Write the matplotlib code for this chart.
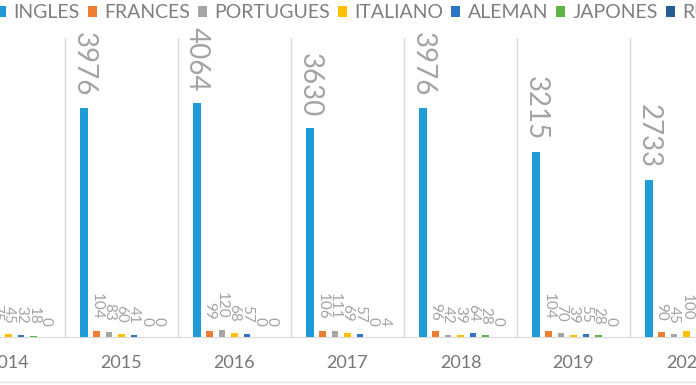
import numpy as np
import matplotlib
matplotlib.use("Agg")
import matplotlib.pyplot as plt

plt.rcParams['font.family'] = ['Lato', 'DejaVu Sans']

# data (2014 and 2020 are partly cut off in the source)
years = ['2014', '2015', '2016', '2017', '2018', '2019', '2020']
series_names = ['INGLES', 'FRANCES', 'PORTUGUES', 'ITALIANO', 'ALEMAN', 'JAPONES', 'RUSO']
ingles = [3500, 3976, 4064, 3630, 3976, 3215, 2733]
frances = [95, 104, 99, 106, 96, 104, 90]
portugues = [75, 83, 120, 111, 42, 70, 45]
italiano = [45, 60, 68, 69, 39, 39, 100]
aleman = [32, 41, 57, 57, 64, 55, 60]
japones = [18, 0, 0, 0, 28, 28, 0]
ruso = [0, 0, 0, 4, 0, 0, 0]

colors = ['#1F9BD7', '#ED7D31', '#A5A5A5', '#FFC000', '#2E75C6', '#5DB545', '#245E92']
all_series = [ingles, frances, portugues, italiano, aleman, japones, ruso]

fig = plt.figure(figsize=(6.96, 3.85), dpi=100)
base_px, top_px = 337, 38
ax = fig.add_axes([0, 1 - base_px / 385, 1, (base_px - top_px) / 385])

x = np.arange(len(years))
step = 0.1106
width = 0.058
label_color = '#A3A3A3'

handles = []
for i, (name, vals, c) in enumerate(zip(series_names, all_series, colors)):
    pos = x + (i - 3) * step
    w = width * 1.1 if i == 0 else width
    b = ax.bar(pos, vals, width=w, color=c, label=name, zorder=3)
    handles.append(b)
    fs = 20 if i == 0 else 11
    for px, v in zip(pos, vals):
        ax.annotate(str(v), (px, v), xytext=(0, 8), textcoords='offset points',
                    rotation=270, ha='center', va='bottom', fontsize=fs,
                    color=label_color, annotation_clip=False)

ax.set_xlim(-0.075, 6.084)
ax.set_ylim(0, 5190)

# separators between year groups
for b in x[:-1] + 0.5:
    ax.axvline(b, color='#D9D9D9', lw=1, zorder=1)

for s in ['top', 'right', 'left']:
    ax.spines[s].set_visible(False)
ax.spines['bottom'].set_color('#D9D9D9')
ax.set_yticks([])
ax.set_xticks(x)
ax.set_xticklabels(years, fontsize=13, color='#767676')
ax.tick_params(axis='x', length=0, pad=13)

# thin border line at the very bottom
fig.add_artist(plt.Line2D([0, 1], [1 - 382 / 385] * 2, color='#E3E3E3', lw=1))

fig.legend(handles=handles, labels=series_names, loc='center left',
           bbox_to_anchor=(-0.004, 1 - 13 / 385), ncol=7, frameon=False,
           prop={'size': 14}, handlelength=0.47,
           handleheight=0.47, handletextpad=0.36, columnspacing=0.42,
           borderpad=0, borderaxespad=0, labelcolor='#7F7F7F')

fig.savefig('out.png', dpi=100)
